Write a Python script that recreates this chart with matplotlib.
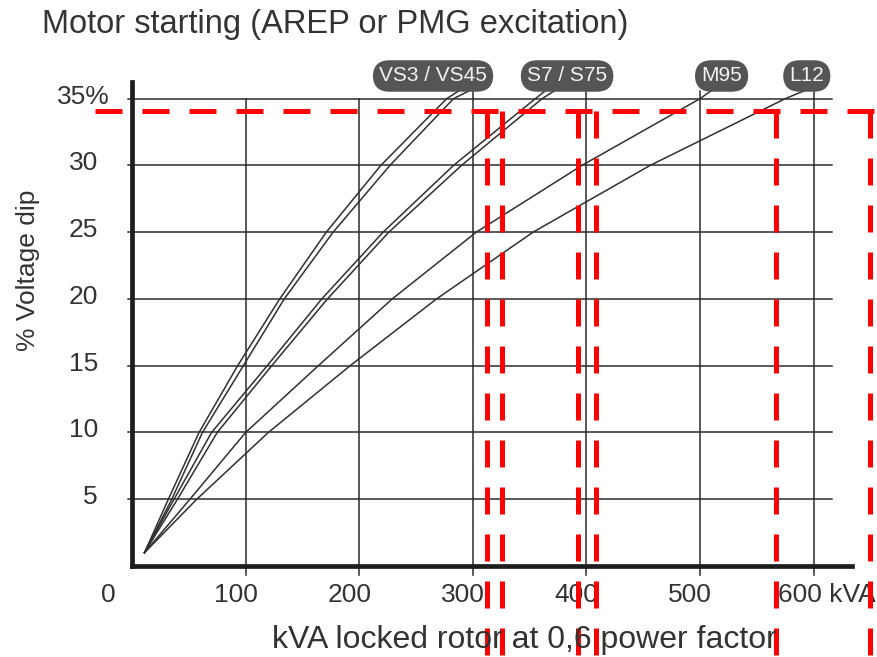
import matplotlib.pyplot as plt

plt.rcParams['font.family'] = ['Liberation Sans', 'DejaVu Sans']

# voltage dip (%) at which the curves were read
dip = [1.0, 5, 10, 15, 20, 25, 30, 35, 35.6]

# kVA at those dips
vs3 = [11, 32, 59, 93, 130, 171, 219, 277, 288]
vs45 = [11, 35, 62, 98, 134, 177, 227, 283, 297]
s7 = [11, 37, 70, 119, 167, 221, 283, 355, 364]
s75 = [11, 40, 75, 123, 172, 226, 290, 361, 372]
m95 = [11, 51, 100, 164, 229, 303, 396, 500, 510]
l12 = [11, 57, 120, 192, 268, 353, 456, 575, 592]

curves = [vs3, vs45, s7, s75, m95, l12]

# labels above the curves and where they sit (kVA)
tags = ['VS3 / VS45', 'S7 / S75', 'M95', 'L12']
tag_x = [265, 383, 519, 594]

xticks = [0, 100, 200, 300, 400, 500, 600]
yticks = [5, 10, 15, 20, 25, 30, 35]

# red dashed marks added on top of the chart
red_dip = 34.07
red_kva = [312.5, 325.7, 392.6, 408.5, 566.9, 649.6]

txt = '#333333'
ink = '#2b2b2b'

fig = plt.figure(figsize=(8.77, 6.57), dpi=100)
ax = fig.add_axes([132 / 877, 91 / 657, 720 / 877, 484 / 657])
ax.set_xlim(0, 633.8)
ax.set_ylim(0, 36.25)

for s in ['top', 'right']:
    ax.spines[s].set_visible(False)
for s in ['left', 'bottom']:
    ax.spines[s].set_linewidth(3.4)
    ax.spines[s].set_color('#1e1e1e')
    ax.spines[s].set_capstyle('projecting')
ax.set_xticks([])
ax.set_yticks([])

# grid, drawn by hand so it pokes out past the axes like the original
for v in yticks:
    ax.plot([-3.5, 616], [v, v], color=ink, lw=1.1, clip_on=False, zorder=1)
for k in xticks[1:]:
    top = 35.6 if k >= 300 else 35
    ax.plot([k, k], [-0.7, top], color=ink, lw=1.1, clip_on=False, zorder=1)

for c in curves:
    ax.plot(c, dip, color='#303030', lw=1.1, clip_on=False, zorder=2)

for t, x in zip(tags, tag_x):
    ax.text(x, 36.7, t, ha='center', va='center', fontsize=15, color='#f2f2f2',
            clip_on=False, zorder=4,
            bbox=dict(boxstyle='round,pad=0.3,rounding_size=0.8',
                      fc='#555555', ec='none'))

# tick labels
for k in xticks:
    if k == 0:
        ax.annotate('0', (k, 0), xytext=(-24, -29), textcoords='offset pixels',
                    ha='center', va='center', fontsize=19, color=txt,
                    annotation_clip=False)
    elif k == 600:
        ax.annotate('600 kVA', (k, 0), xytext=(-36, -29), textcoords='offset pixels',
                    ha='left', va='center', fontsize=19, color=txt,
                    annotation_clip=False)
    else:
        ax.annotate(str(k), (k, 0), xytext=(-10, -29), textcoords='offset pixels',
                    ha='center', va='center', fontsize=19, color=txt,
                    annotation_clip=False)
for v in yticks:
    lab = '35%' if v == 35 else str(v)
    dx = -22 if v == 35 else -34
    ax.annotate(lab, (0, v), xytext=(dx, 2), textcoords='offset pixels',
                ha='right', va='center', fontsize=19, color=txt,
                annotation_clip=False)

fig.text(42 / 877, 1 - 24 / 657, 'Motor starting (AREP or PMG excitation)',
         ha='left', va='center', fontsize=23.5, color=txt)
fig.text(28 / 877, 1 - 270 / 657, '% Voltage dip', rotation=90,
         ha='center', va='center', fontsize=19, color=txt)
fig.text(524 / 877, 1 - 640 / 657, 'kVA locked rotor at 0,6 power factor',
         ha='center', va='center', fontsize=23, color=txt)

# red dashed overlay
ax.plot([-32.6, 660], [red_dip, red_dip], color='#ff0000', lw=3.6,
        ls=(0, (5.4, 4)), clip_on=False, zorder=5, solid_capstyle='butt')
for k in red_kva:
    ax.plot([k, k], [red_dip, -7], color='#ff0000', lw=3.6,
            ls=(0, (5.4, 4)), clip_on=False, zorder=5)

fig.savefig('out.png', dpi=100)
